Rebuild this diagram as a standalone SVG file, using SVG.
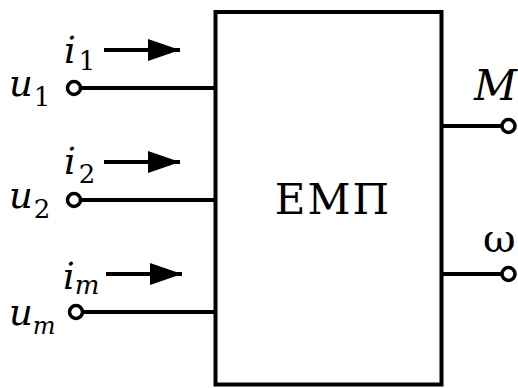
<svg xmlns="http://www.w3.org/2000/svg" width="518" height="388" viewBox="0 0 518 388">
<style>
.ln{stroke:#000;stroke-width:4;fill:none}
.term{stroke:#000;stroke-width:3.5;fill:#fff}
text{font-family:'DejaVu Serif',serif;fill:#000}
.it{font-style:italic}
</style>
<defs>
<marker id="ah" markerWidth="32" markerHeight="22" refX="32" refY="11" orient="auto" markerUnits="userSpaceOnUse">
<path d="M0,0 L32,11 L0,22 Z" fill="#000"/>
</marker>
</defs>
<rect width="518" height="388" fill="#fff"/>
<g id="connectors">
<line class="ln" x1="80" y1="88" x2="216" y2="88"/>
<line class="ln" x1="80" y1="200" x2="216" y2="200"/>
<line class="ln" x1="82" y1="312" x2="216" y2="312"/>
<line class="ln" x1="441" y1="126" x2="502" y2="126"/>
<line class="ln" x1="441" y1="274" x2="502" y2="274"/>
<line class="ln" x1="104" y1="50" x2="180" y2="50" marker-end="url(#ah)"/>
<line class="ln" x1="104" y1="162" x2="180" y2="162" marker-end="url(#ah)"/>
<line class="ln" x1="106" y1="274" x2="182" y2="274" marker-end="url(#ah)"/>
</g>
<g id="emp">
<rect class="ln" x="215.5" y="12" width="226" height="372.5"/>
<text x="333" y="214" font-size="42" letter-spacing="2" text-anchor="middle">ЕМП</text>
</g>
<g id="in1">
<circle class="term" cx="74" cy="88" r="6.5"/>
<text x="9" y="96" font-size="37"><tspan class="it">u</tspan><tspan font-size="26" dx="1" dy="10">1</tspan></text>
<text x="64" y="63" font-size="37"><tspan class="it">i</tspan><tspan font-size="26" dx="3" dy="7">1</tspan></text>
</g>
<g id="in2">
<circle class="term" cx="74" cy="200" r="6.5"/>
<text x="9" y="208" font-size="37"><tspan class="it">u</tspan><tspan font-size="26" dx="1" dy="10">2</tspan></text>
<text x="64" y="174" font-size="37"><tspan class="it">i</tspan><tspan font-size="26" dx="3" dy="9">2</tspan></text>
</g>
<g id="inm">
<circle class="term" cx="76" cy="312" r="6.5"/>
<text x="9" y="325" font-size="37"><tspan class="it">u</tspan><tspan class="it" font-size="24" dy="9">m</tspan></text>
<text x="63" y="289" font-size="37"><tspan class="it">i</tspan><tspan class="it" font-size="26" dy="5">m</tspan></text>
</g>
<g id="outM">
<circle class="term" cx="508.5" cy="126" r="6.5"/>
<text class="it" x="474" y="100" font-size="42">M</text>
</g>
<g id="outW">
<circle class="term" cx="508.5" cy="274" r="6.5"/>
<text x="483" y="252" font-size="40">ω</text>
</g>
</svg>
